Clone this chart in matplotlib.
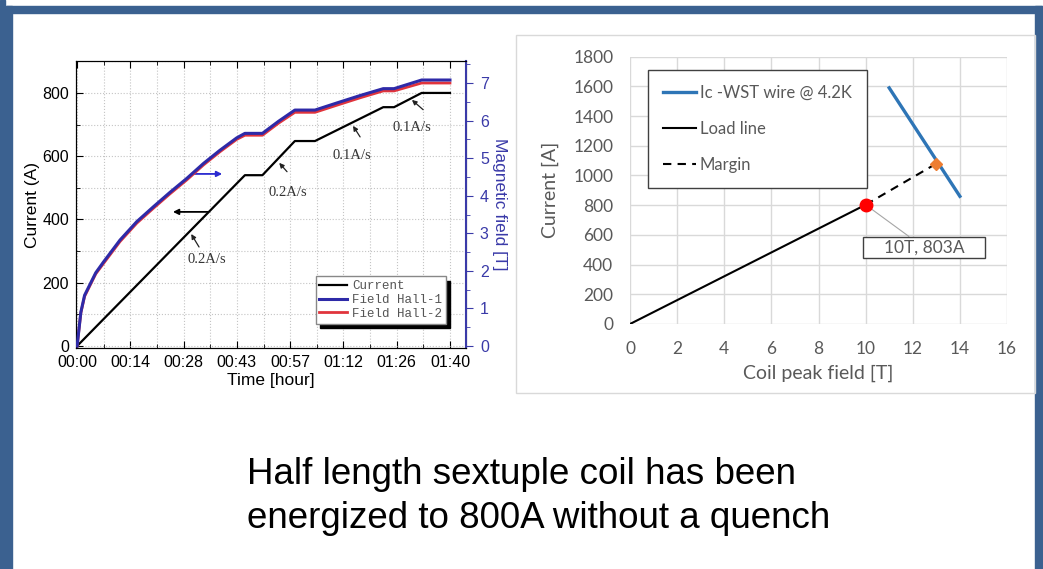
import numpy as np
import matplotlib.pyplot as plt
from matplotlib.patches import Rectangle
from matplotlib.ticker import FixedLocator, MultipleLocator

W, H = 1043, 569

# ---- left chart: ramp test ----
t_cur = [0, 45.0, 49.7, 58.4, 63.8, 82.1, 85.0, 92.4, 100]
current = [0, 540, 540, 648, 648, 755, 755, 800, 800]

t_field = [0, 1, 2, 3, 5, 7.1, 11.5, 16.0, 20.5, 24.9, 29.4, 33.9, 38.3, 42.8,
           45.0, 49.7, 54.0, 58.4, 63.8, 70.0, 76.0, 82.1, 85.0, 92.4, 100]
hall1 = [0, 0.9, 1.35, 1.55, 1.95, 2.24, 2.82, 3.31, 3.71, 4.09, 4.46, 4.86, 5.21, 5.54,
         5.66, 5.66, 5.98, 6.28, 6.28, 6.48, 6.67, 6.85, 6.85, 7.08, 7.08]
hall2 = [0, 0.88, 1.32, 1.52, 1.92, 2.2, 2.78, 3.27, 3.67, 4.05, 4.42, 4.82, 5.17, 5.5,
         5.61, 5.61, 5.93, 6.22, 6.22, 6.42, 6.61, 6.79, 6.79, 7.0, 7.0]

time_ticks = [0, 14.29, 28.57, 42.86, 57.14, 71.43, 85.71, 100]
time_labels = ["00:00", "00:14", "00:28", "00:43", "00:57", "01:12", "01:26", "01:40"]

# rate labels: (text x, text y, arrow tail x, y, arrow head x, y)
rate_notes = [("0.2A/s", 34.9, 272, 32.7, 313, 30.6, 354),
              ("0.2A/s", 56.6, 484, 56.3, 551, 54.2, 579),
              ("0.1A/s", 73.7, 601, 75.9, 661, 74.0, 696),
              ("0.1A/s", 89.8, 690, 92.8, 747, 89.8, 778)]

# ---- right chart: load line ----
ic_field = [11, 14]
ic_current = [1590, 860]
load_field = [0, 10]
load_current = [0, 803]
margin_field = [10, 13]
margin_current = [803, 1080]

fig = plt.figure(figsize=(W / 100, H / 100), dpi=100)
plt.rcParams['font.family'] = ['Liberation Sans', 'DejaVu Sans']

# slide frame
frame_c = '#3B6190'
fig.add_artist(Rectangle((0, 0), 5 / W, 1, transform=fig.transFigure, color=frame_c))
fig.add_artist(Rectangle((6 / W, 0), 6 / W, 1 - 6 / H, transform=fig.transFigure, color=frame_c))
fig.add_artist(Rectangle((6 / W, 1 - 12.5 / H), 1036 / W, 6.5 / H, transform=fig.transFigure, color=frame_c))
fig.add_artist(Rectangle((1035 / W, 0), 7 / W, 1 - 6 / H, transform=fig.transFigure, color=frame_c))

# right chart area border
fig.add_artist(Rectangle((516 / W, 1 - 393 / H), 519 / W, 358 / H, transform=fig.transFigure,
                         fill=False, edgecolor='#D9D9D9', lw=1))

ax1 = fig.add_axes([76 / W, 1 - 348 / H, 390 / W, 287 / H])
ax2 = ax1.twinx()
blue_ax = '#3A3AA8'

ax1.plot(t_cur, current, color='black', lw=1.6, label='Current', zorder=3)
l1, = ax2.plot(t_field, hall1, color='#2E2AA8', lw=2.2, label='Field Hall-1', zorder=3)
l2, = ax2.plot(t_field, hall2, color='#E0343C', lw=2.0, label='Field Hall-2', zorder=2)

ax1.set_xlim(-0.3, 104.3)
ax1.set_ylim(-6.3, 901)
ax2.set_ylim(-0.053, 7.586)

ax1.xaxis.set_major_locator(FixedLocator(time_ticks))
ax1.set_xticklabels(time_labels)
ax1.xaxis.set_minor_locator(FixedLocator([v + 50 / 7 for v in time_ticks[:-1]]))
ax1.yaxis.set_major_locator(MultipleLocator(200))
ax1.yaxis.set_minor_locator(MultipleLocator(100))
ax1.tick_params(which='both', direction='in', top=True, labelsize=11.5, pad=5)
ax1.tick_params(which='major', length=5)
ax1.tick_params(which='minor', length=3)
ax1.grid(True, which='both', color='#c4c4c4', ls=':', lw=0.8)
ax1.set_axisbelow(True)

ax2.yaxis.set_major_locator(MultipleLocator(1))
ax2.yaxis.set_minor_locator(MultipleLocator(0.5))
ax2.tick_params(which='both', direction='out', colors=blue_ax, labelsize=11.5, pad=5)
ax2.tick_params(which='major', length=5)
ax2.tick_params(which='minor', length=3)
ax2.spines['right'].set_color(blue_ax)
ax2.spines['right'].set_linewidth(1.5)

ax1.set_xlabel('Time [hour]', fontsize=12.5, labelpad=2)
ax1.set_ylabel('Current (A)', fontsize=12.5, labelpad=2)
ax2.set_ylabel('Magnetic field [T]', fontsize=12.5, color=blue_ax, rotation=270, labelpad=13)

for txt, tx, ty, ax_, ay_, hx, hy in rate_notes:
    ax1.text(tx, ty, txt, ha='center', va='center', fontsize=10.5,
             family='Liberation Serif', color='#333333', zorder=4)
    ax1.annotate('', xy=(hx, hy), xytext=(ax_, ay_),
                 arrowprops=dict(arrowstyle='-|>', color='#222222', lw=0.9,
                                 mutation_scale=7, shrinkA=0, shrinkB=0), zorder=4)

ax1.annotate('', xy=(25.7, 424), xytext=(35.1, 424),
             arrowprops=dict(arrowstyle='-|>', color='black', lw=1.3,
                             mutation_scale=8, shrinkA=0, shrinkB=0))
ax1.annotate('', xy=(38.9, 544), xytext=(31.1, 544),
             arrowprops=dict(arrowstyle='-|>', color='#2A2AD0', lw=1.3,
                             mutation_scale=8, shrinkA=0, shrinkB=0))

h1, lab1 = ax1.get_legend_handles_labels()
leg = ax2.legend(h1 + [l1, l2], lab1 + ['Field Hall-1', 'Field Hall-2'],
                 loc='lower right', bbox_to_anchor=(0.948, 0.085),
                 prop={'family': 'Liberation Mono', 'size': 9},
                 fancybox=False, edgecolor='#888888', framealpha=1,
                 shadow={'ox': 3, 'oy': -3, 'facecolor': 'black', 'edgecolor': 'black', 'alpha': 1},
                 handlelength=2.2, handletextpad=0.4, borderpad=0.3, labelspacing=0.15,
                 borderaxespad=0)
for t in leg.get_texts():
    t.set_color('#555555')

# right chart
ax3 = fig.add_axes([630 / W, 1 - 324 / H, 377 / W, 267.3 / H])
grey = '#595959'
ax3.set_xlim(0, 16)
ax3.set_ylim(0, 1800)
ax3.xaxis.set_major_locator(MultipleLocator(2))
ax3.yaxis.set_major_locator(MultipleLocator(200))
ax3.grid(True, color='#D9D9D9', lw=1)
ax3.set_axisbelow(True)
for s in ax3.spines.values():
    s.set_visible(False)
ax3.tick_params(length=0, labelsize=12.5, labelcolor=grey, pad=12)
for lab in ax3.get_xticklabels() + ax3.get_yticklabels():
    lab.set_family('Lato')

ax3.plot(ic_field, ic_current, color='#2E75B6', lw=2.4, label='Ic -WST wire @ 4.2K')
ax3.plot(load_field, load_current, color='black', lw=1.5, label='Load line')
ax3.plot(margin_field, margin_current, color='black', lw=1.5, ls=(0, (4, 3)), label='Margin')
ax3.plot([margin_field[1]], [margin_current[1]], marker='D', ms=6, color='#ED7D31', zorder=5)
ax3.plot([load_field[1]], [load_current[1]], marker='o', ms=9, color='#FF0000', zorder=5)

ax3.annotate('    10T, 803A    ', xy=(10, 803), xytext=(12.48, 515), ha='center', va='center',
             fontsize=12.5, family='Lato', color=grey,
             bbox=dict(boxstyle='square,pad=0.15', fc='white', ec='#404040', lw=1),
             arrowprops=dict(arrowstyle='-', color='#A6A6A6', lw=0.8, shrinkA=0, shrinkB=4))

leg3 = ax3.legend(loc='upper left', bbox_to_anchor=(0.048, 0.95), fancybox=False,
                  edgecolor='#404040', framealpha=1, borderpad=0.9, labelspacing=1.2,
                  handlelength=2.0, handletextpad=0.2, borderaxespad=0,
                  prop={'family': 'Lato', 'size': 12})
leg3.get_frame().set_linewidth(1)
for t in leg3.get_texts():
    t.set_color(grey)

ax3.set_xlabel('Coil peak field [T]', fontsize=14, color=grey, family='Lato', labelpad=6)
ax3.set_ylabel('Current [A]', fontsize=14, color=grey, family='Lato', labelpad=10)

fig.text(247 / W, 1 - 475 / H, 'Half length sextuple coil has been', fontsize=26.5,
         va='center', ha='left', color='black')
fig.text(247 / W, 1 - 518 / H, 'energized to 800A without a quench', fontsize=26.5,
         va='center', ha='left', color='black')

fig.savefig('out.png', dpi=100)
